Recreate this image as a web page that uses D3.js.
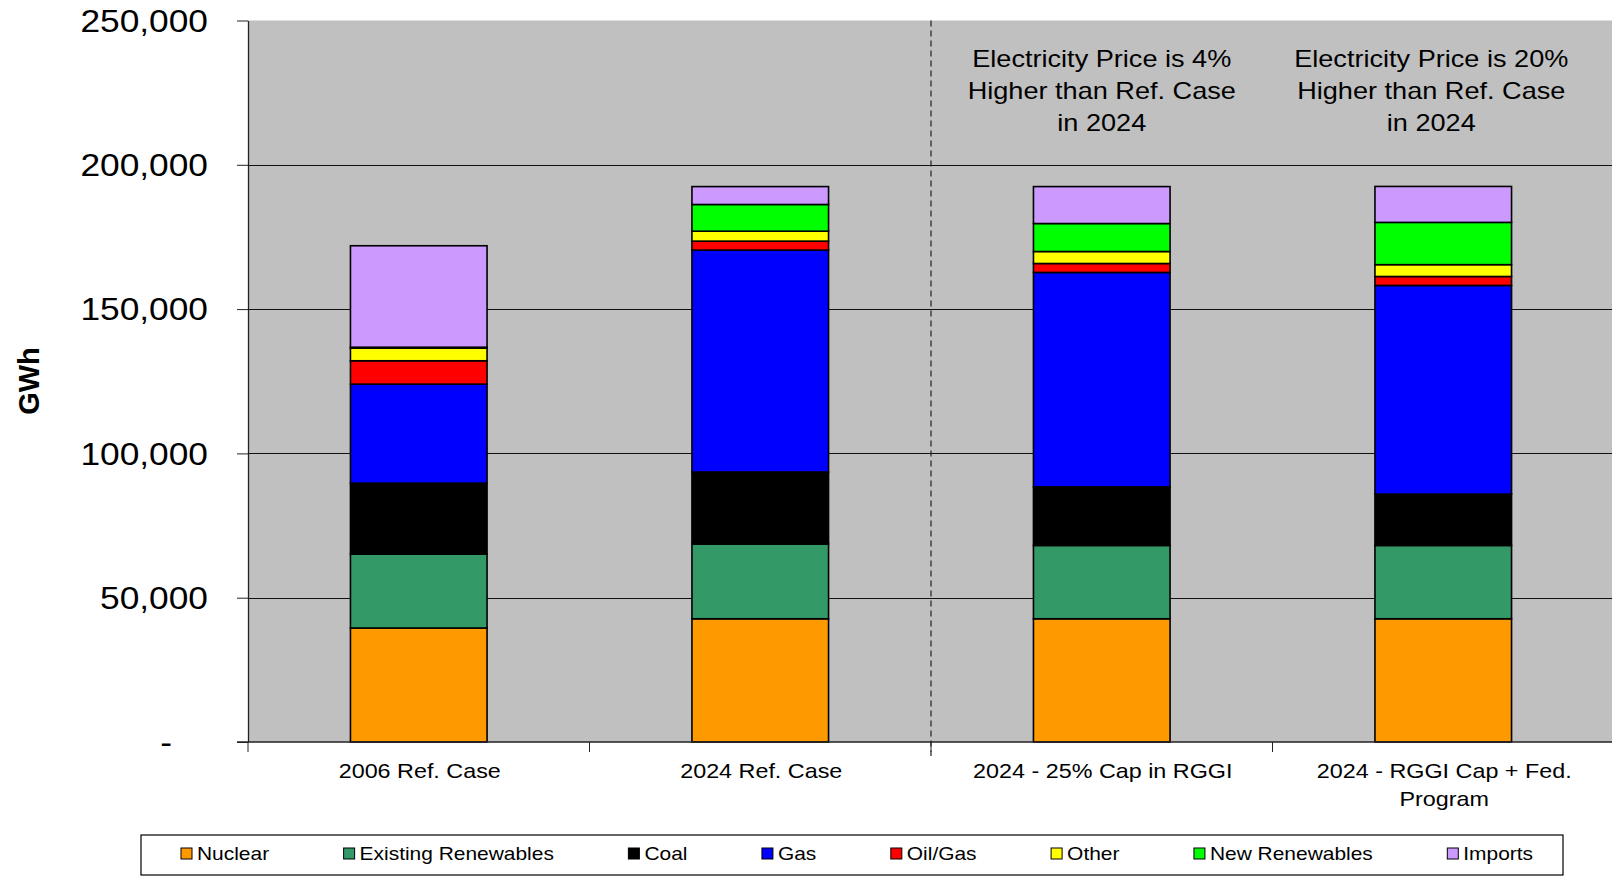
<!DOCTYPE html>
<html>
<head>
<meta charset="utf-8">
<script src="https://cdn.jsdelivr.net/npm/d3@7"></script>
<style>
  html, body { margin: 0; padding: 0; background: #fff; }
  svg { display: block; font-family: "Liberation Sans", Arial, sans-serif; }
</style>
</head>
<body>
<div id="chart"></div>
<script>
// categories and labels
var categories = ["2006 Ref. Case", "2024 Ref. Case", "2024 - 25% Cap in RGGI", "2024 - RGGI Cap + Fed. Program"];
var xLabelLines = [["2006 Ref. Case"], ["2024 Ref. Case"], ["2024 - 25% Cap in RGGI"], ["2024 - RGGI Cap + Fed.", "Program"]];
var notes = [null, null,
  ["Electricity Price is 4%", "Higher than Ref. Case", "in 2024"],
  ["Electricity Price is 20%", "Higher than Ref. Case", "in 2024"]];

// series (GWh)
var seriesNames = ["Nuclear", "Existing Renewables", "Coal", "Gas", "Oil/Gas", "Other", "New Renewables", "Imports"];
var nuclear     = [39500, 42700, 42700, 42700];
var existingRen = [25600, 25900, 25400, 25400];
var coal        = [24600, 24950, 20300, 17800];
var gas         = [34300, 76900, 74300, 72300];
var oilGas      = [8100, 3100, 3100, 3100];
var other       = [4400, 3450, 4150, 4100];
var newRen      = [300, 9250, 9700, 14650];
var imports     = [35150, 6200, 12800, 12450];
var yTicks = [0, 50000, 100000, 150000, 200000, 250000];

var colors = ["#FF9900", "#339966", "#000000", "#0000FF", "#FF0000", "#FFFF00", "#00FF00", "#CC99FF"];

var W = 1612, H = 876;
var SX = 1.15; // text in the original is a bit stretched sideways

var svg = d3.select("#chart").append("svg")
    .attr("width", W)
    .attr("height", H);

var allSeries = [nuclear, existingRen, coal, gas, oilGas, other, newRen, imports];
var rows = categories.map(function(c, i) {
  var r = {cat: c};
  seriesNames.forEach(function(s, j) { r[s] = allSeries[j][i]; });
  return r;
});

var stacked = d3.stack().keys(seriesNames)(rows);

var x = d3.scaleBand()
    .domain(categories)
    .range([248, 1614])
    .paddingInner(0.6)
    .paddingOuter(0.3);

var y = d3.scaleLinear()
    .domain([0, 250000])
    .range([742, 20.5]);

var color = d3.scaleOrdinal().domain(seriesNames).range(colors);

// plot background
svg.append("rect")
    .attr("x", x.range()[0])
    .attr("y", y(250000))
    .attr("width", W - x.range()[0])
    .attr("height", y(0) - y(250000))
    .attr("fill", "#C0C0C0");

// gridlines
svg.append("g").selectAll("line")
  .data(yTicks.filter(function(d) { return d > 0 && d < 250000; }))
  .enter().append("line")
    .attr("x1", x.range()[0])
    .attr("x2", W)
    .attr("y1", function(d) { return Math.round(y(d)) + 0.5; })
    .attr("y2", function(d) { return Math.round(y(d)) + 0.5; })
    .attr("stroke", "#111")
    .attr("stroke-width", 1);

// bars
var layer = svg.append("g").selectAll("g")
  .data(stacked)
  .enter().append("g")
    .attr("fill", function(d) { return color(d.key); });

layer.selectAll("rect")
  .data(function(d) { return d; })
  .enter().append("rect")
    .attr("x", function(d) { return x(d.data.cat); })
    .attr("y", function(d) { return y(d[1]); })
    .attr("width", x.bandwidth())
    .attr("height", function(d) { return y(d[0]) - y(d[1]); })
    .attr("stroke", "#000")
    .attr("stroke-width", 1.6);

// y axis
var yAxis = svg.append("g")
    .attr("transform", "translate(" + x.range()[0] + ",0)")
    .call(d3.axisLeft(y).tickValues(yTicks).tickSize(11).tickSizeOuter(0)
      .tickFormat(function(d) { return d === 0 ? "-" : d3.format(",")(d); }));

yAxis.select(".domain").attr("stroke", "#222").attr("stroke-width", 1.3);
yAxis.selectAll(".tick line").attr("stroke", "#222");
yAxis.selectAll(".tick text")
    .attr("fill", "#000")
    .attr("font-size", "30.7px")
    .attr("x", function(d) { return (d === 0 ? -76 : -40) / SX; })
    .attr("dy", "0.35em")
    .attr("transform", "scale(" + SX + ",1)");

// x axis: line at zero plus ticks on the band edges
var step = x.step();
var x0 = x.range()[0];
svg.append("line")
    .attr("x1", x0 - 11).attr("x2", W)
    .attr("y1", y(0)).attr("y2", y(0))
    .attr("stroke", "#222").attr("stroke-width", 1.3);

svg.append("g").selectAll("line")
  .data(d3.range(categories.length + 1))
  .enter().append("line")
    .attr("x1", function(i) { return x0 + i * step; })
    .attr("x2", function(i) { return x0 + i * step; })
    .attr("y1", y(0))
    .attr("y2", y(0) + 10)
    .attr("stroke", "#222");

// dashed divider between reference and policy cases
svg.append("line")
    .attr("x1", x0 + 2 * step).attr("x2", x0 + 2 * step)
    .attr("y1", y(250000)).attr("y2", y(0) + 14)
    .attr("stroke", "#222")
    .attr("stroke-width", 1.2)
    .attr("stroke-dasharray", "6,4");

// x labels
categories.forEach(function(c, i) {
  var cx = x(c) + x.bandwidth() / 2;
  xLabelLines[i].forEach(function(t, k) {
    svg.append("text")
        .attr("transform", "translate(" + (cx + 1) + "," + (771 + k * 28) + ") scale(" + SX + ",1)")
        .attr("text-anchor", "middle")
        .attr("dy", "0.35em")
        .attr("font-size", "20.3px")
        .attr("fill", "#000")
        .text(t);
  });
});

// notes above policy bars
var noteShift = [0, 0, 0, -12];
categories.forEach(function(c, i) {
  if (!notes[i]) return;
  var cx = x(c) + x.bandwidth() / 2 + noteShift[i];
  notes[i].forEach(function(t, k) {
    svg.append("text")
        .attr("transform", "translate(" + cx + "," + (58.6 + k * 31.8) + ") scale(" + 1.13 + ",1)")
        .attr("text-anchor", "middle")
        .attr("dy", "0.35em")
        .attr("font-size", "24px")
        .attr("fill", "#000")
        .text(t);
  });
});

// y title
svg.append("text")
    .attr("transform", "translate(29,381) rotate(-90)")
    .attr("text-anchor", "middle")
    .attr("dy", "0.35em")
    .attr("font-size", "29px")
    .attr("font-weight", "bold")
    .text("GWh");

// legend
var legend = svg.append("g");
legend.append("rect")
    .attr("x", 141).attr("y", 835)
    .attr("width", 1422).attr("height", 40)
    .attr("fill", "#fff")
    .attr("stroke", "#000")
    .attr("stroke-width", 1.2);

var lx = 181;
seriesNames.forEach(function(s) {
  var g = legend.append("g");
  g.append("rect")
      .attr("x", lx).attr("y", 848)
      .attr("width", 11).attr("height", 11)
      .attr("fill", color(s))
      .attr("stroke", "#000")
      .attr("stroke-width", 1);
  var t = g.append("text")
      .attr("transform", "translate(" + (lx + 16) + ",854) scale(" + SX + ",1)")
      .attr("dy", "0.35em")
      .attr("font-size", "18.2px")
      .attr("fill", "#000")
      .text(s);
  lx += 16 + t.node().getComputedTextLength() * SX + 74.5;
});
</script>
</body>
</html>
